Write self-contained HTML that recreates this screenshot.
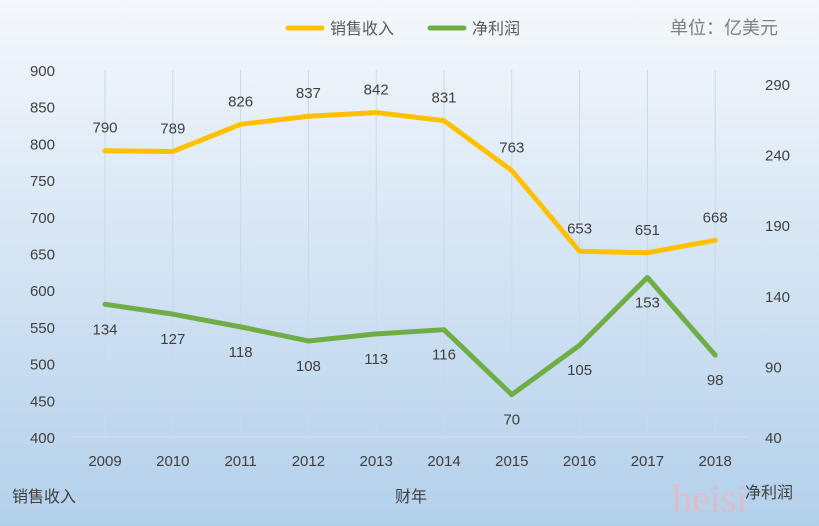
<!DOCTYPE html>
<html><head><meta charset="utf-8"><style>
body{margin:0;width:819px;height:526px;overflow:hidden;font-family:"Liberation Sans","Noto Sans CJK SC",sans-serif;}
svg{display:block}
</style></head><body>
<svg width="819" height="526" xmlns="http://www.w3.org/2000/svg">
<defs><linearGradient id="bg" x1="0" y1="0" x2="0" y2="1"><stop offset="0" stop-color="#f5f8fc"/><stop offset="1" stop-color="#b3d0eb"/></linearGradient></defs>
<rect width="819" height="526" fill="url(#bg)"/>
<g id="grid"></g><g id="axes"></g><g id="series"></g>
<g font-size="16" fill="#595959">
<line x1="288" y1="28" x2="322" y2="28" stroke="#ffc000" stroke-width="5" stroke-linecap="round"/>
<text x="330" y="34">销售收入</text>
<line x1="430" y1="28" x2="464" y2="28" stroke="#70ad47" stroke-width="5" stroke-linecap="round"/>
<text x="472" y="34">净利润</text>
</g>
<text x="670" y="34" font-size="18" fill="#7f7f7f">单位：亿美元</text>
<text x="12" y="502" font-size="16" fill="#404040">销售收入</text>
<text x="395" y="502" font-size="16" fill="#404040">财年</text>
<text x="745" y="498" font-size="16" fill="#404040">净利润</text>
<text x="672" y="512" font-size="40" fill="#e8b8c0" font-family="Liberation Serif,serif" opacity="0.8">heisi</text>
</svg>
<script>
const years=["2009","2010","2011","2012","2013","2014","2015","2016","2017","2018"];
const revenue=[790,789,826,837,842,831,763,653,651,668];
const profit=[134,127,118,108,113,116,70,105,153,98];
const leftTicks=[400,450,500,550,600,650,700,750,800,850,900];
const rightTicks=[40,90,140,190,240,290];
const NS="http://www.w3.org/2000/svg";
const x=i=>105+i*67.8;
const yL=v=>437-(v-400)*367/500;
const yR=v=>437-(v-40)*353/250;
function mk(p,tag,attrs,txt){const e=document.createElementNS(NS,tag);for(const k in attrs)e.setAttribute(k,attrs[k]);if(txt!==undefined)e.textContent=txt;p.appendChild(e);return e;}
const grid=document.getElementById('grid'),axes=document.getElementById('axes'),ser=document.getElementById('series');
years.forEach((yr,i)=>{
 const g=mk(grid,'line',{x1:x(i),x2:x(i),y1:yL(900),y2:437,stroke:'#c9d9ea','stroke-width':1});
 
 
 const t=mk(axes,'text',{x:x(i),y:466,'text-anchor':'middle','font-size':15,fill:'#404040'},yr);
 
 
});
const ax=mk(axes,'line',{x1:72,x2:748,y1:437,y2:437,stroke:'#d0dcea','stroke-width':1.5});


leftTicks.forEach(v=>{const t=mk(axes,'text',{x:55,y:yL(v)+6,'text-anchor':'end','font-size':15,fill:'#404040'},v);
 
 });
rightTicks.forEach(v=>{const t=mk(axes,'text',{x:765,y:yR(v)+6,'font-size':15,fill:'#404040'},v);
 
 });
const rp=mk(ser,'polyline',{points:revenue.map((v,i)=>x(i)+','+yL(v)).join(' '),fill:'none',stroke:'#ffc000','stroke-width':5,'stroke-linejoin':'round','stroke-linecap':'round'});


const pp=mk(ser,'polyline',{points:profit.map((v,i)=>x(i)+','+yR(v)).join(' '),fill:'none',stroke:'#70ad47','stroke-width':5,'stroke-linejoin':'round','stroke-linecap':'round'});


revenue.forEach((v,i)=>{const t=mk(ser,'text',{x:x(i),y:yL(v)-18,'text-anchor':'middle','font-size':15,fill:'#404040'},v);
 
 });
profit.forEach((v,i)=>{const t=mk(ser,'text',{x:x(i),y:yR(v)+30,'text-anchor':'middle','font-size':15,fill:'#404040'},v);
 
 });
</script>
</body></html>
